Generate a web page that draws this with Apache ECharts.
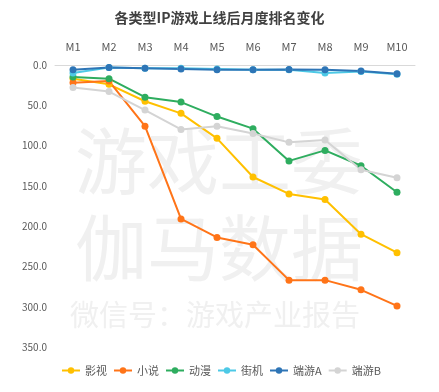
<!DOCTYPE html>
<html><head><meta charset="utf-8">
<script src="https://cdn.jsdelivr.net/npm/echarts@6/dist/echarts.min.js"></script>
<style>html,body{margin:0;padding:0;background:#fff}#c{width:439px;height:392px}</style>
</head><body><div id="c"></div>
<script>
var months = ['M1','M2','M3','M4','M5','M6','M7','M8','M9','M10'];
var film   = [17, 24, 45, 60, 91, 139, 160, 167, 210, 233];
var novel  = [22, 20, 76, 191, 214, 223, 267, 267, 279, 299];
var anime  = [15, 17, 40, 46, 64, 79, 119, 106, 125, 158];
var arcade = [10, 3, 4, 4, 5, 6, 6, 10, 8, 11.5];
var pcA    = [6, 3, 4, 5, 6, 6, 5.5, 6, 7.5, 11];
var pcB    = [28, 33, 56, 80, 76, 85, 96, 93, 130, 140];
var names  = ['影视','小说','动漫','街机','端游A','端游B'];
var colors = ['#FFC000','#FF7418','#2EAD5F','#4DC9E6','#2E75B6','#D4D4D4'];
var datas  = [film, novel, anime, arcade, pcA, pcB];

var chart = echarts.init(document.getElementById('c'));
var font = '"Microsoft YaHei","Noto Sans CJK SC",sans-serif';
chart.setOption({
  animation:false,
  title:{text:'各类型IP游戏上线后月度排名变化',left:'center',top:6,
    textStyle:{fontSize:14,fontWeight:'bold',color:'#404040',fontFamily:font}},
  grid:{left:55,right:24,top:65,bottom:45},
  xAxis:{type:'category',data:months,position:'top',boundaryGap:true,
    axisLine:{lineStyle:{color:'#D9D9D9'}},axisTick:{show:false},
    axisLabel:{color:'#595959',fontSize:11,fontFamily:font,margin:13}},
  yAxis:{type:'value',inverse:true,min:0,max:350,interval:50,
    axisLine:{show:false},axisTick:{show:false},splitLine:{show:false},
    axisLabel:{color:'#595959',fontSize:10,fontFamily:font,formatter:function(v){return v.toFixed(1);}}},
  legend:{bottom:11,left:56,itemWidth:18,itemHeight:8,itemGap:6,
    textStyle:{color:'#595959',fontSize:11,fontFamily:font},data:names},
  graphic:[
    {type:'text',left:75,top:125,z:-10,style:{text:'游戏工委',fontSize:72,fill:'#F0F0F0',fontFamily:font}},
    {type:'text',left:75,top:212,z:-10,style:{text:'伽马数据',fontSize:72,fill:'#F0F0F0',fontFamily:font}},
    {type:'text',left:70,top:300,z:-10,style:{text:'微信号：游戏产业报告',fontSize:29,fill:'#F0F0F0',fontFamily:font}}
  ],
  series:names.map(function(n,i){return {name:n,type:'line',data:datas[i],
    symbol:'circle',symbolSize:7,color:colors[i],lineStyle:{width:2,color:colors[i]},
    itemStyle:{color:colors[i]}};})
});
</script></body></html>
